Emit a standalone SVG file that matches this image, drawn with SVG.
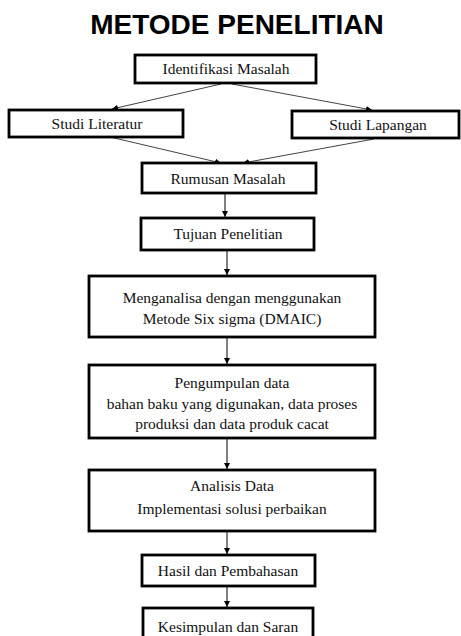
<svg xmlns="http://www.w3.org/2000/svg" width="461" height="636" viewBox="0 0 461 636">
<style>
.box{fill:#fff;stroke:#000;stroke-width:2.8}
.t{font-family:'Liberation Serif','Times New Roman',Times,serif;font-size:15.5px;fill:#111;text-anchor:middle}
.title{font-family:'Liberation Sans',Arial,sans-serif;font-size:28px;font-weight:bold;fill:#000;text-anchor:middle}
.c{stroke:#000;stroke-width:1;fill:none;marker-end:url(#ah)}
.cg{stroke:#444;stroke-width:1;fill:none;marker-end:url(#ah)}
</style>
<defs>
<marker id="ah" viewBox="0 0 10 10" refX="10" refY="5" markerWidth="6" markerHeight="6" markerUnits="userSpaceOnUse" orient="auto">
<path d="M0,0 L10,5 L0,10 Z" fill="#000"/>
</marker>
</defs>
<rect width="461" height="636" fill="#fff"/>
<text class="title" x="237" y="34">METODE PENELITIAN</text>
<g id="connectors">
<line class="cg" x1="221" y1="84" x2="112" y2="109"/>
<line class="cg" x1="232" y1="84" x2="372" y2="110"/>
<line class="cg" x1="110" y1="137" x2="221" y2="163"/>
<line class="cg" x1="374" y1="139" x2="243" y2="163"/>
<line class="c" x1="225" y1="194" x2="225" y2="217"/>
<line class="c" x1="227" y1="251" x2="227" y2="275"/>
<line class="c" x1="227" y1="338" x2="227" y2="364"/>
<line class="c" x1="227" y1="439" x2="227" y2="469"/>
<line class="c" x1="227" y1="532" x2="227" y2="554"/>
<line class="c" x1="227" y1="587" x2="227" y2="607"/>
</g>
<g font-family="Liberation Serif, Times New Roman, serif">
<g id="identifikasi">
<rect class="box" x="135" y="55" width="181" height="28"/>
<text class="t" x="226" y="74">Identifikasi Masalah</text>
</g>
<g id="studi-literatur">
<rect class="box" x="9" y="110" width="174" height="27"/>
<text class="t" x="97" y="129">Studi Literatur</text>
</g>
<g id="studi-lapangan">
<rect class="box" x="292" y="111" width="167" height="27"/>
<text class="t" x="378" y="130">Studi Lapangan</text>
</g>
<g id="rumusan">
<rect class="box" x="142" y="163" width="174" height="30"/>
<text class="t" x="228" y="184">Rumusan Masalah</text>
</g>
<g id="tujuan">
<rect class="box" x="141" y="218" width="173" height="32"/>
<text class="t" x="228" y="239">Tujuan Penelitian</text>
</g>
<g id="menganalisa">
<rect class="box" x="89" y="276" width="286" height="61"/>
<text class="t" x="232" y="303">Menganalisa  dengan menggunakan</text>
<text class="t" x="232" y="324">Metode Six sigma (DMAIC)</text>
</g>
<g id="pengumpulan">
<rect class="box" x="89" y="365" width="286" height="73"/>
<text class="t" x="232" y="388">Pengumpulan data</text>
<text class="t" x="232" y="409">bahan baku yang digunakan, data proses</text>
<text class="t" x="232" y="429">produksi dan data produk cacat</text>
</g>
<g id="analisis">
<rect class="box" x="89" y="470" width="286" height="61"/>
<text class="t" x="232" y="491">Analisis Data</text>
<text class="t" x="232" y="514">Implementasi solusi perbaikan</text>
</g>
<g id="hasil">
<rect class="box" x="142" y="555" width="173" height="31"/>
<text class="t" x="228" y="576">Hasil dan Pembahasan</text>
</g>
<g id="kesimpulan">
<rect class="box" x="143" y="608" width="170" height="34"/>
<text class="t" x="228" y="632">Kesimpulan dan Saran</text>
</g>
</g>
</svg>
